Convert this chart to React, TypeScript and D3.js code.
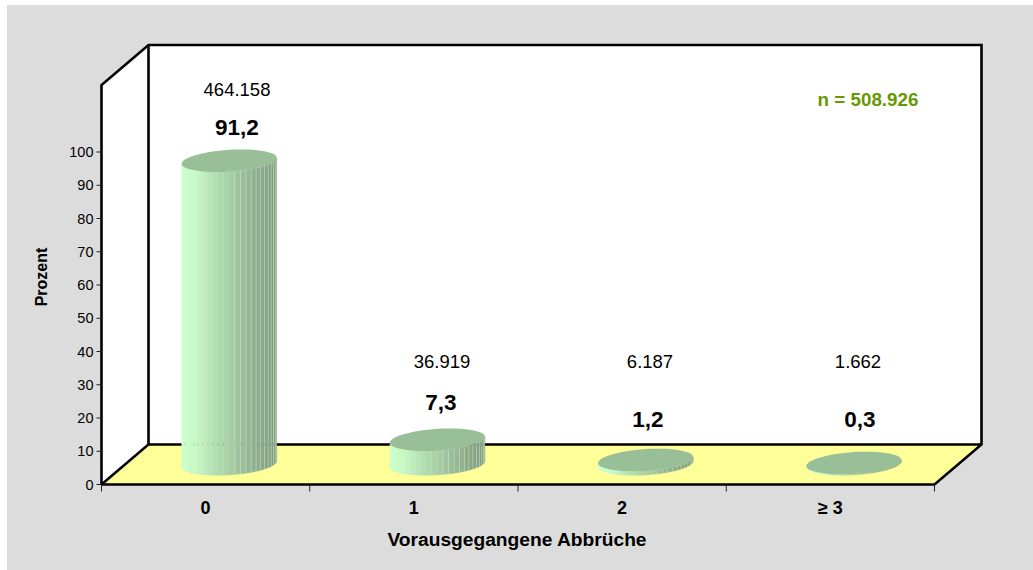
import React from "react";
import * as d3 from "d3";

const categories = ["0", "1", "2", "≥ 3"];
const percent = [91.2, 7.3, 1.2, 0.3];
const percentLabels = ["91,2", "7,3", "1,2", "0,3"];
const countLabels = ["464.158", "36.919", "6.187", "1.662"];
const countLabelX = [237, 442, 650, 858];
const countLabelY = [95.5, 368, 368, 368];
const percentLabelX = [237, 441, 648, 860];
const percentLabelY = [135, 410, 427, 427];
const yTicks = [0, 10, 20, 30, 40, 50, 60, 70, 80, 90, 100];
const sideStops = ["#ccffcc", "#c6f6c6", "#b4e0b4", "#a8d0a8", "#98bc98", "#8aaa8a", "#7e9c80"];

const W = 1033, H = 570;
const floorLeft = 101.5, floorRight = 934.5, floorY = 484.5;
const dx = 47, dy = 40, wallTop = 45;
const FONT = "'Liberation Sans', Arial, sans-serif";

export default function App() {
  const y = d3.scaleLinear().domain([0, 100]).range([floorY, 152]);
  const x = d3.scaleBand<string>().domain(categories).range([floorLeft, floorRight]);
  const colour = d3.scaleLinear<string>()
    .domain(sideStops.map((_, i) => i / (sideStops.length - 1)))
    .range(sideStops);

  const rx = 47.5, ry = 10.9, slope = 0.063, strips = 26;
  const pt = (cx: number, cy: number, t: number): [number, number] => [
    cx + rx * Math.cos(t),
    cy + ry * Math.sin(t) - slope * rx * Math.cos(t),
  ];
  const line = d3.line();
  const angles = d3.range(0, 361, 6).map((d) => (d * Math.PI) / 180);

  return (
    <svg width={W} height={H} style={{ position: "absolute", left: 0, top: 0 }} fontFamily={FONT}>
      <rect width={W} height={H} fill="#ffffff" />
      <rect x={7} y={5} width={W - 7} height={H - 5} fill="#dcdcdc" />

      <path d={`M${floorLeft},${floorY}V${wallTop + dy}L${floorLeft + dx},${wallTop}H${floorRight + dx}V${floorY - dy}L${floorRight},${floorY}Z`} fill="#ffffff" />
      <path d={`M${floorLeft},${floorY}L${floorLeft + dx},${floorY - dy}H${floorRight + dx}L${floorRight},${floorY}Z`} fill="#ffff99" />
      <g fill="none" stroke="#000" strokeWidth={2.6} strokeLinejoin="miter">
        <path d={`M${floorLeft},${floorY}V${wallTop + dy}L${floorLeft + dx},${wallTop}H${floorRight + dx}V${floorY - dy}L${floorRight},${floorY}H${floorLeft}`} />
        <path d={`M${floorLeft},${floorY}L${floorLeft + dx},${floorY - dy}V${wallTop}M${floorLeft + dx},${floorY - dy}H${floorRight + dx}`} />
      </g>

      {yTicks.map((t) => (
        <g key={t}>
          <line x1={floorLeft - 5} x2={floorLeft} y1={y(t)} y2={y(t)} stroke="#222" strokeWidth={1} />
          <text x={floorLeft - 8} y={y(t)} dy="0.36em" textAnchor="end" fontSize={14.5} fill="#000">{t}</text>
        </g>
      ))}
      {[...categories.map((c) => x(c)!), floorRight].map((p) => (
        <line key={p} x1={p} x2={p} y1={floorY} y2={floorY + 7} stroke="#222" strokeWidth={1} />
      ))}

      {categories.map((c, i) => {
        const cx = x(c)! + x.bandwidth() / 2 + dx / 2;
        const base = floorY - dy / 2 - 0.5;
        const h = y(0) - y(percent[i]);
        const top = base - h;
        const front = x(c)! + x.bandwidth() / 2;
        return (
          <g key={c}>
            {d3.range(strips).map((s) => {
              const a = Math.PI - (Math.PI * s) / strips;
              const b = Math.PI - (Math.PI * (s + 1)) / strips;
              const [x0, y0] = pt(cx, top, a);
              const [x1, y1] = pt(cx, top, b);
              const mid = (x0 + x1) / 2;
              const col = colour((mid - (cx - rx)) / (2 * rx));
              return (
                <g key={s}>
                  <path d={line([[x0, y0], [x1, y1], [x1, y1 + h], [x0, y0 + h]])!} fill={col} stroke={col} strokeWidth={0.5} />
                  {s > strips / 2 && (
                    <line x1={x0} x2={x0} y1={y0} y2={y0 + h} stroke="#dff2df" strokeOpacity={0.45} strokeWidth={0.8} />
                  )}
                </g>
              );
            })}
            <path d={line(angles.map((t) => pt(cx, top, t)))! + "Z"} fill="#99bf99" />
            <text x={countLabelX[i]} y={countLabelY[i]} textAnchor="middle" fontSize={18.5} fill="#000">{countLabels[i]}</text>
            <text x={percentLabelX[i]} y={percentLabelY[i]} textAnchor="middle" fontSize={22.5} fontWeight="bold" fill="#000">{percentLabels[i]}</text>
            <text x={front} y={514} textAnchor="middle" fontSize={18} fontWeight="bold" fill="#000">{c}</text>
          </g>
        );
      })}

      <text x={868} y={105.5} textAnchor="middle" fontSize={18.8} fontWeight="bold" fill="#669900">n = 508.926</text>
      <text x={517} y={546} textAnchor="middle" fontSize={19.2} fontWeight="bold" fill="#000">Vorausgegangene Abbrüche</text>
      <text transform="translate(47,277) rotate(-90)" textAnchor="middle" fontSize={16} fontWeight="bold" fill="#000">Prozent</text>
    </svg>
  );
}
